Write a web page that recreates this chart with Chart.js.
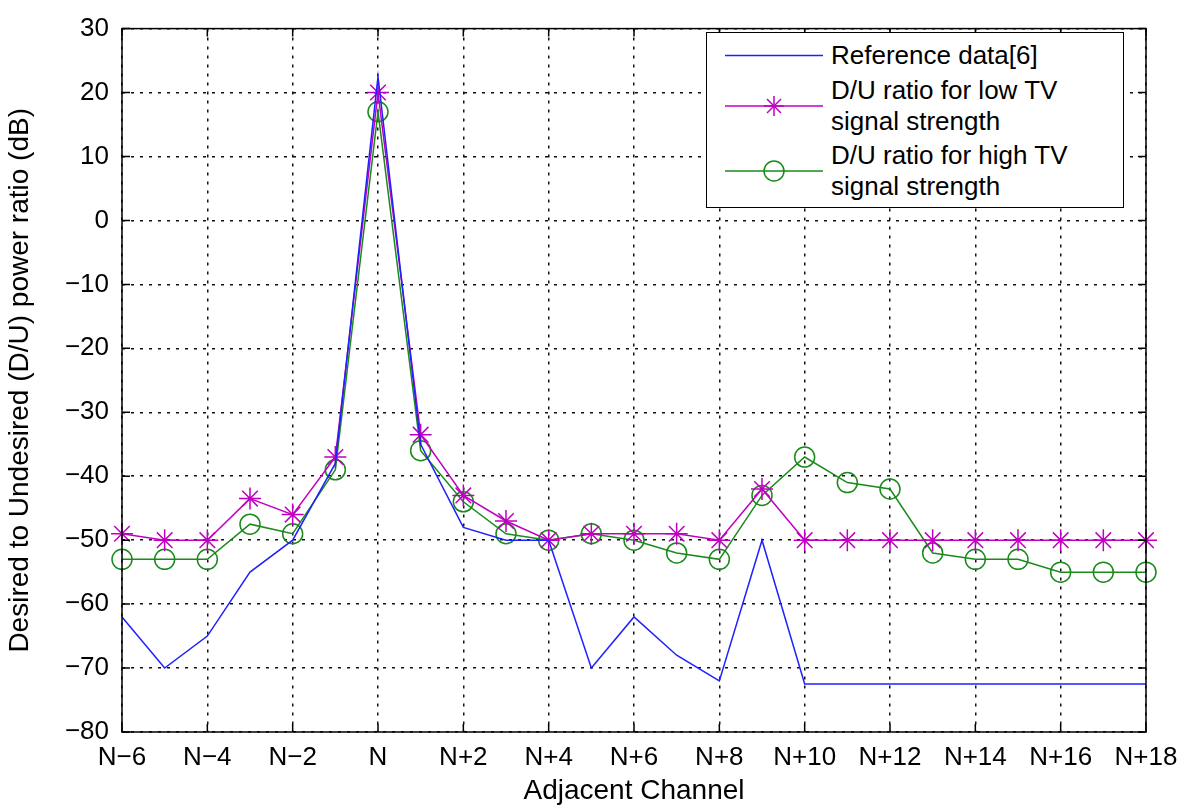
<!DOCTYPE html>
<html>
<head>
<meta charset="utf-8">
<script src="https://cdn.jsdelivr.net/npm/chart.js@4/dist/chart.umd.min.js"></script>
<style>
  body { margin: 0; background: #fff; }
  #wrap { position: relative; width: 1188px; height: 808px; }
  #legend {
    position: absolute; left: 706px; top: 32px; width: 416px; height: 174px;
    border: 1.5px solid #000; background: #fff;
    font-family: "Liberation Sans", Arial, sans-serif; font-size: 26px; color: #000;
  }
  .row { position: absolute; left: 0; width: 100%; }
  .row svg { position: absolute; left: 18px; }
  .row .txt { position: absolute; left: 124px; line-height: 31px; white-space: nowrap; }
</style>
</head>
<body>
<div id="wrap">
  <canvas id="c" width="1188" height="808"></canvas>
  <div id="legend">
    <div class="row" style="top:7px">
      <svg width="100" height="31"><line x1="0" y1="15.5" x2="98" y2="15.5" stroke="#2020ff" stroke-width="1.5"/></svg>
      <div class="txt">Reference data[6]</div>
    </div>
    <div class="row" style="top:42px">
      <svg width="100" height="62">
        <line x1="0" y1="31" x2="98" y2="31" stroke="#c000c0" stroke-width="1.5"/>
        <g stroke="#c000c0" stroke-width="1.5">
          <line x1="49" y1="21" x2="49" y2="41"/><line x1="39" y1="31" x2="59" y2="31"/>
          <line x1="42" y1="24" x2="56" y2="38"/><line x1="56" y1="24" x2="42" y2="38"/>
        </g>
      </svg>
      <div class="txt">D/U ratio for low TV<br>signal strength</div>
    </div>
    <div class="row" style="top:107px">
      <svg width="100" height="62">
        <line x1="0" y1="31" x2="98" y2="31" stroke="#1a8a1a" stroke-width="1.5"/>
        <circle cx="49" cy="31" r="10" fill="none" stroke="#1a8a1a" stroke-width="1.5"/>
      </svg>
      <div class="txt">D/U ratio for high TV<br>signal strength</div>
    </div>
  </div>
</div>
<script>
// adjacent channel offsets relative to N
const channels = [-6, -5, -4, -3, -2, -1, 0, 1, 2, 3, 4, 5, 6, 7, 8, 9, 10, 11, 12, 13, 14, 15, 16, 17, 18];

const referenceData = [-62, -70, -65, -55, -50, -38, 22.5, -35, -48, -50, -50, -70, -62, -68, -72, -50, -72.5, -72.5, -72.5, -72.5, -72.5, -72.5, -72.5, -72.5, -72.5];
const lowTV = [-49, -50, -50, -43.5, -46, -37, 20, -33.5, -43, -47, -50, -49, -49, -49, -50, -42, -50, -50, -50, -50, -50, -50, -50, -50, -50];
const highTV = [-53, -53, -53, -47.5, -49, -39, 17, -36, -44, -49, -50, -49, -50, -52, -53, -43, -37, -41, -42, -52, -53, -53, -55, -55, -55];

const yTicks = [-80, -70, -60, -50, -40, -30, -20, -10, 0, 10, 20, 30];

const FONT = "'Liberation Sans', Arial, sans-serif";

function toPoints(values) {
  return channels.map((ch, i) => ({ x: ch, y: values[i] }));
}

function channelLabel(v) {
  if (v === 0) return 'N';
  return v > 0 ? 'N+' + v : 'N\u2212' + (-v);
}

// MATLAB style box with inward tick marks
const framePlugin = {
  id: 'frame',
  afterDatasetsDraw(chart) {
    const { ctx, chartArea: a, scales } = chart;
    ctx.save();
    ctx.strokeStyle = '#000';
    ctx.lineWidth = 1.5;
    ctx.setLineDash([]);
    ctx.strokeRect(a.left, a.top, a.right - a.left, a.bottom - a.top);
    const len = 8;
    ctx.beginPath();
    scales.x.ticks.forEach(t => {
      const px = scales.x.getPixelForValue(t.value);
      ctx.moveTo(px, a.bottom); ctx.lineTo(px, a.bottom - len);
      ctx.moveTo(px, a.top); ctx.lineTo(px, a.top + len);
    });
    scales.y.ticks.forEach(t => {
      const py = scales.y.getPixelForValue(t.value);
      ctx.moveTo(a.left, py); ctx.lineTo(a.left + len, py);
      ctx.moveTo(a.right, py); ctx.lineTo(a.right - len, py);
    });
    ctx.stroke();
    ctx.restore();
  }
};

new Chart(document.getElementById('c').getContext('2d'), {
  type: 'line',
  data: {
    datasets: [
      {
        label: 'Reference data[6]',
        data: toPoints(referenceData),
        borderColor: '#2020ff',
        borderWidth: 1.5,
        pointRadius: 0,
        tension: 0,
        clip: false,
      },
      {
        label: 'D/U ratio for low TV signal strength',
        data: toPoints(lowTV),
        borderColor: '#c000c0',
        borderWidth: 1.5,
        pointStyle: 'star',
        pointRadius: 11,
        pointBorderWidth: 1.5,
        pointBorderColor: '#c000c0',
        pointBackgroundColor: 'transparent',
        tension: 0,
        clip: false,
      },
      {
        label: 'D/U ratio for high TV signal strength',
        data: toPoints(highTV),
        borderColor: '#1a8a1a',
        borderWidth: 1.5,
        pointStyle: 'circle',
        pointRadius: 10,
        pointBorderWidth: 1.5,
        pointBorderColor: '#1a8a1a',
        pointBackgroundColor: 'transparent',
        tension: 0,
        clip: false,
      },
    ],
  },
  options: {
    responsive: false,
    animation: false,
    layout: { padding: { top: 18, right: 42, left: 0, bottom: 0 } },
    plugins: {
      legend: { display: false },
      tooltip: { enabled: false },
    },
    scales: {
      x: {
        type: 'linear',
        min: -6,
        max: 18,
        afterFit: s => { s.height = 76; },
        afterBuildTicks: s => {
          s.ticks = channels.filter(c => c % 2 === 0).map(v => ({ value: v }));
        },
        ticks: {
          callback: v => channelLabel(v),
          font: { family: FONT, size: 26 },
          color: '#000',
          padding: 10,
          maxRotation: 0,
          autoSkip: false,
        },
        grid: { color: '#111', lineWidth: 1.5, drawTicks: false },
        border: { display: false, dash: [3, 6] },
        title: {
          display: true,
          text: 'Adjacent Channel',
          font: { family: FONT, size: 28 },
          color: '#000',
          padding: { top: 0, bottom: 0 },
        },
      },
      y: {
        min: -80,
        max: 30,
        afterFit: s => { s.width = 122; },
        afterBuildTicks: s => { s.ticks = yTicks.map(v => ({ value: v })); },
        ticks: {
          callback: v => v < 0 ? '\u2212' + Math.abs(v) : String(v),
          font: { family: FONT, size: 26 },
          color: '#000',
          padding: 13,
        },
        grid: { color: '#111', lineWidth: 1.5, drawTicks: false },
        border: { display: false, dash: [3, 6] },
        title: {
          display: true,
          text: 'Desired to Undesired (D/U) power ratio (dB)',
          font: { family: FONT, size: 28 },
          color: '#000',
          padding: { top: 3, bottom: 0 },
        },
      },
    },
  },
  plugins: [framePlugin],
});
</script>
</body>
</html>
